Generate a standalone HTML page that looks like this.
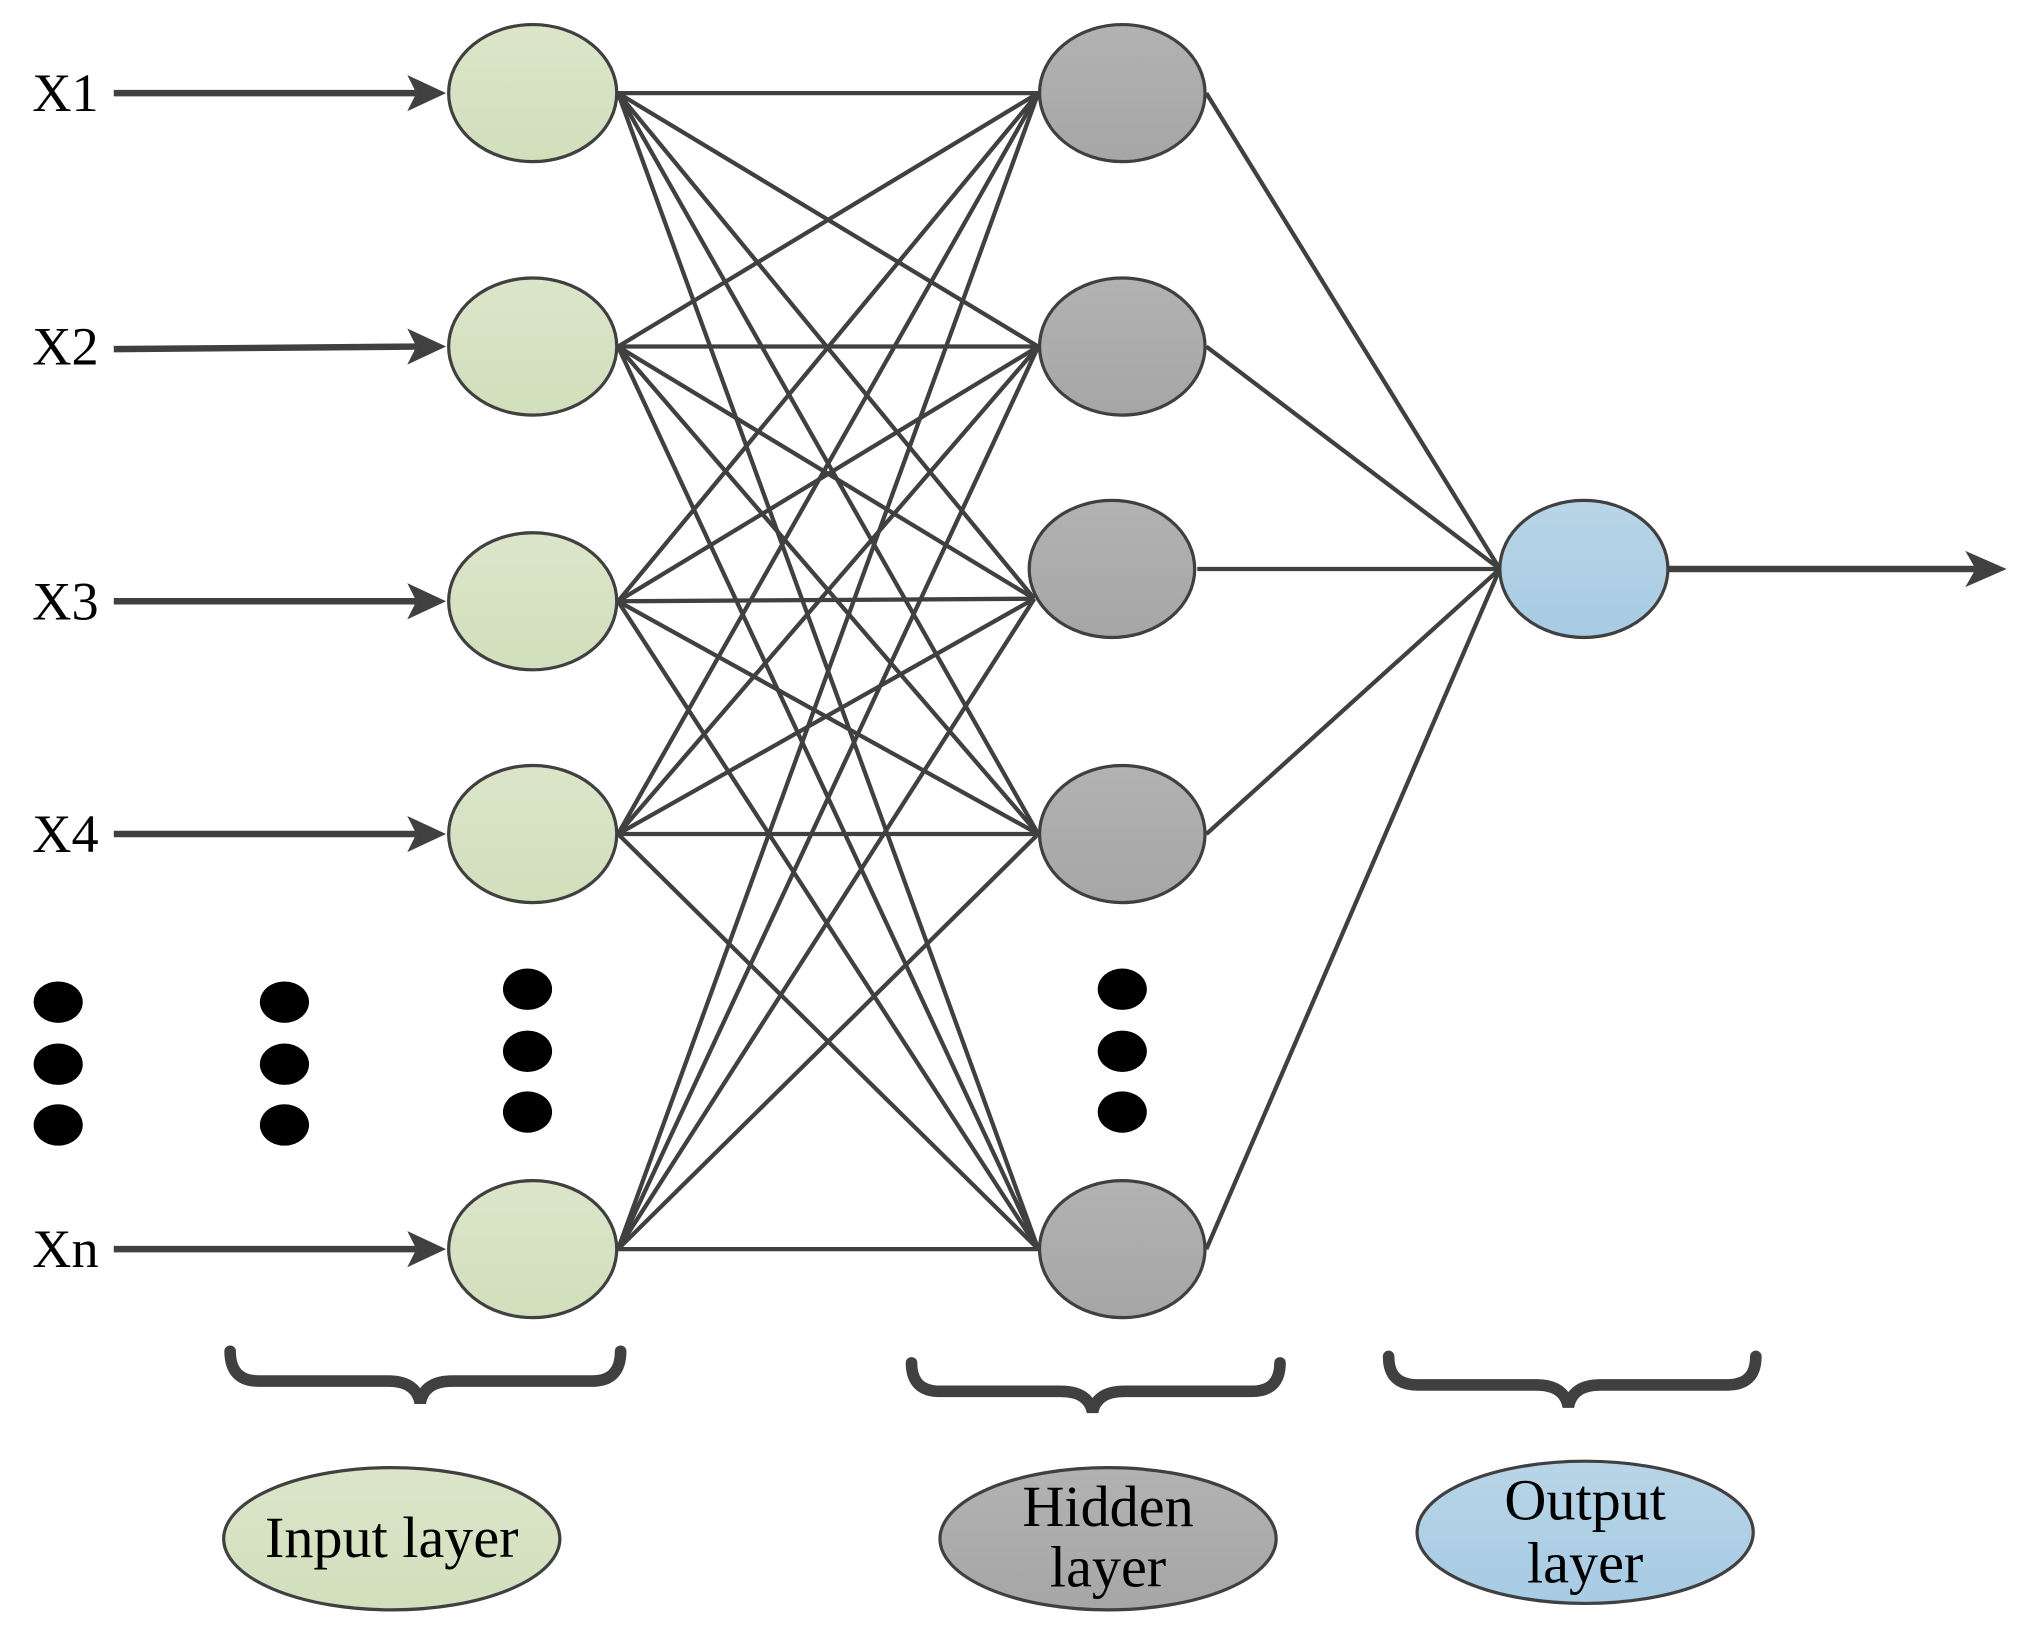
<!DOCTYPE html>
<html><head><meta charset="utf-8"><style>html,body{margin:0;padding:0;background:#fff}svg{display:block}</style></head>
<body>
<svg width="2017" height="1628" viewBox="0 0 1560 1259" preserveAspectRatio="none" xmlns="http://www.w3.org/2000/svg">
<defs>
<linearGradient id="g" x1="0" y1="0" x2="0" y2="1"><stop offset="0" stop-color="#dce5c9"/><stop offset="1" stop-color="#d1dfbc"/></linearGradient>
<linearGradient id="h" x1="0" y1="0" x2="0" y2="1"><stop offset="0" stop-color="#b2b2b2"/><stop offset="1" stop-color="#a6a6a6"/></linearGradient>
<linearGradient id="b" x1="0" y1="0" x2="0" y2="1"><stop offset="0" stop-color="#b9d5e7"/><stop offset="1" stop-color="#a6cbe3"/></linearGradient>
</defs>
<g stroke="#404040" stroke-width="3.3" fill="none">
<line x1="478" y1="72" x2="803" y2="72"/><line x1="478" y1="72" x2="803" y2="268"/><line x1="478" y1="72" x2="800" y2="463"/><line x1="478" y1="72" x2="803" y2="645"/><line x1="478" y1="72" x2="803" y2="966"/>
<line x1="478" y1="268" x2="803" y2="72"/><line x1="478" y1="268" x2="803" y2="268"/><line x1="478" y1="268" x2="800" y2="463"/><line x1="478" y1="268" x2="803" y2="645"/><line x1="478" y1="268" x2="803" y2="966"/>
<line x1="478" y1="465" x2="803" y2="72"/><line x1="478" y1="465" x2="803" y2="268"/><line x1="478" y1="465" x2="800" y2="463"/><line x1="478" y1="465" x2="803" y2="645"/><line x1="478" y1="465" x2="803" y2="966"/>
<line x1="478" y1="645" x2="803" y2="72"/><line x1="478" y1="645" x2="803" y2="268"/><line x1="478" y1="645" x2="800" y2="463"/><line x1="478" y1="645" x2="803" y2="645"/><line x1="478" y1="645" x2="803" y2="966"/>
<line x1="478" y1="966" x2="803" y2="72"/><line x1="478" y1="966" x2="803" y2="268"/><line x1="478" y1="966" x2="800" y2="463"/><line x1="478" y1="966" x2="803" y2="645"/><line x1="478" y1="966" x2="803" y2="966"/>
<line x1="933" y1="72" x2="1160" y2="440"/><line x1="933" y1="268" x2="1160" y2="440"/><line x1="926" y1="440" x2="1160" y2="440"/><line x1="933" y1="645" x2="1160" y2="440"/><line x1="933" y1="966" x2="1160" y2="440"/>
</g>
<g stroke="#404040" stroke-width="5" fill="#404040">
<line x1="88" y1="72" x2="322" y2="72"/><polygon points="345,72 315,58 322,72 315,86" stroke="none"/>
<line x1="88" y1="270" x2="322" y2="268"/><polygon points="345,268 315,254 322,268 315,282" stroke="none"/>
<line x1="88" y1="465" x2="322" y2="465"/><polygon points="345,465 315,451 322,465 315,479" stroke="none"/>
<line x1="88" y1="645" x2="322" y2="645"/><polygon points="345,645 315,631 322,645 315,659" stroke="none"/>
<line x1="88" y1="966" x2="322" y2="966"/><polygon points="345,966 315,952 322,966 315,980" stroke="none"/>
<line x1="1290" y1="440" x2="1528" y2="440"/><polygon points="1552,440 1520,426 1528,440 1520,454" stroke="none"/>
</g>
<g stroke="#404040" stroke-width="2.5">
<g fill="url(#g)">
<ellipse cx="412" cy="72" rx="65" ry="53"/><ellipse cx="412" cy="268" rx="65" ry="53"/><ellipse cx="412" cy="465" rx="65" ry="53"/><ellipse cx="412" cy="645" rx="65" ry="53"/><ellipse cx="412" cy="966" rx="65" ry="53"/>
</g>
<g fill="url(#h)">
<ellipse cx="868" cy="72" rx="64" ry="53"/><ellipse cx="868" cy="268" rx="64" ry="53"/><ellipse cx="860" cy="440" rx="64" ry="53"/><ellipse cx="868" cy="645" rx="64" ry="53"/><ellipse cx="868" cy="966" rx="64" ry="53"/>
</g>
<ellipse cx="1225" cy="440" rx="65" ry="53" fill="url(#b)"/>
<ellipse cx="303" cy="1190" rx="130" ry="55" fill="url(#g)"/>
<ellipse cx="857" cy="1190" rx="130" ry="55" fill="url(#h)"/>
<ellipse cx="1226" cy="1185" rx="130" ry="55" fill="url(#b)"/>
</g>
<g fill="#000">
<ellipse cx="45" cy="775" rx="19" ry="16"/><ellipse cx="45" cy="823" rx="19" ry="16"/><ellipse cx="45" cy="870" rx="19" ry="16"/>
<ellipse cx="220" cy="775" rx="19" ry="16"/><ellipse cx="220" cy="823" rx="19" ry="16"/><ellipse cx="220" cy="870" rx="19" ry="16"/>
<ellipse cx="408" cy="765" rx="19" ry="16"/><ellipse cx="408" cy="813" rx="19" ry="16"/><ellipse cx="408" cy="860" rx="19" ry="16"/>
<ellipse cx="868" cy="765" rx="19" ry="16"/><ellipse cx="868" cy="813" rx="19" ry="16"/><ellipse cx="868" cy="860" rx="19" ry="16"/>
</g>
<g fill="none" stroke="#404040" stroke-width="9" stroke-linecap="round">
<path d="M178,1045 Q178,1068 200,1068 L300,1068 Q322,1068 325,1085 Q328,1068 350,1068 L458,1068 Q480,1068 480,1045"/>
<path d="M705,1054 Q705,1076 727,1076 L820,1076 Q842,1076 845,1092 Q848,1076 870,1076 L968,1076 Q990,1076 990,1054"/>
<path d="M1074,1049 Q1074,1071 1096,1071 L1188,1071 Q1210,1071 1213,1088 Q1216,1071 1238,1071 L1336,1071 Q1358,1071 1358,1049"/>
</g>
<g font-family="Liberation Serif, serif" font-size="42" fill="#000">
<text x="25" y="86">X1</text><text x="25" y="282">X2</text><text x="25" y="479">X3</text><text x="25" y="659">X4</text><text x="25" y="980">Xn</text>
</g>
<g font-family="Liberation Serif, serif" font-size="45" fill="#000">
<text x="303" y="1204" text-anchor="middle">Input layer</text>
<text x="857" y="1180" text-anchor="middle">Hidden</text><text x="857" y="1227" text-anchor="middle">layer</text>
<text x="1226" y="1175" text-anchor="middle">Output</text><text x="1226" y="1224" text-anchor="middle">layer</text>
</g>
</svg>
</body></html>
